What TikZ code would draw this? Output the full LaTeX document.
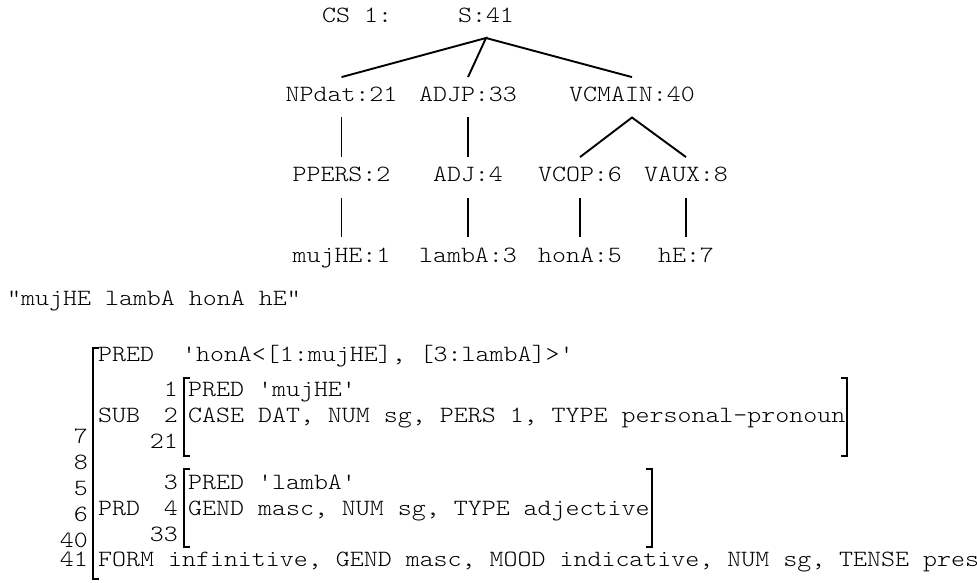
\documentclass[tikz,border=0pt]{standalone}
\usepackage{fontspec}
\newfontfamily\xmono[FakeStretch=1.143]{Latin Modern Mono Light}
\newcommand{\xsize}{\xmono\fontsize{23.3}{26}\selectfont}
\begin{document}
\begin{tikzpicture}[x=1pt,y=-1pt,
  lbl/.style={font=\xsize, inner sep=0pt, anchor=base west},
  rnum/.style={font=\xsize, inner sep=0pt, anchor=base east},
  cat/.style={font=\xsize, inner xsep=0pt, inner ysep=10pt, text height=14.7pt, text depth=5.3pt, anchor=base},
  edge/.style={line width=1.9pt, line cap=butt},
  brk/.style={line width=1.9pt, line cap=butt, line join=miter}]
\useasboundingbox (0,0) rectangle (977,583);
% ---------- c-structure ----------
\node[lbl] (cs) at (322,22.5) {CS 1:};
\node[cat] (s) at (486,22.5) {S:41};
\node[cat] (np) at (341.5,102) {NPdat:21};
\node[cat] (adjp) at (468,102) {ADJP:33};
\node[cat] (vcm) at (632,102) {VCMAIN:40};
\node[cat] (pp) at (341.5,182) {PPERS:2};
\node[cat] (adj) at (468,182) {ADJ:4};
\node[cat] (vcop) at (580,182) {VCOP:6};
\node[cat] (vaux) at (686,182) {VAUX:8};
\node[cat] (w1) at (341.5,262) {mujHE:1};
\node[cat] (w3) at (468,262) {lambA:3};
\node[cat] (w5) at (580,262) {honA:5};
\node[cat] (w7) at (686,262) {hE:7};
\draw[edge] (np.north) -- (s.south) -- (adjp.north);
\draw[edge] (s.south) -- (vcm.north);
\draw[edge] (np.south) -- (pp.north);
\draw[edge] (adjp.south) -- (adj.north);
\draw[edge] (vcop.north) -- (vcm.south) -- (vaux.north);
\draw[edge] (pp.south) -- (w1.north);
\draw[edge] (adj.south) -- (w3.north);
\draw[edge] (vcop.south) -- (w5.north);
\draw[edge] (vaux.south) -- (w7.north);
% ---------- sentence ----------
\node[lbl] (sent) at (7,305) {"mujHE lambA honA hE"};
% ---------- f-structure ----------
\node[lbl] (predtop) at (98,361.5) {PRED\ \ 'honA<[1:mujHE], [3:lambA]>'};
% SUB
\node[rnum] (n1) at (178,396.5) {1};
\node[lbl] (subpred) at (188,396.5) {PRED 'mujHE'};
\node[lbl] (sub) at (98,422.5) {SUB};
\node[rnum] (n2) at (178,422.5) {2};
\node[lbl] (subfeat) at (188,422.5) {CASE DAT, NUM sg, PERS 1, TYPE personal-pronoun};
\node[rnum] (n21) at (178,448.5) {21};
% PRD
\node[rnum] (n3) at (178,489.5) {3};
\node[lbl] (prdpred) at (188,489.5) {PRED 'lambA'};
\node[lbl] (prd) at (98,515) {PRD};
\node[rnum] (n4) at (178,515) {4};
\node[lbl] (prdfeat) at (188,515) {GEND masc, NUM sg, TYPE adjective};
\node[rnum] (n33) at (178,541.5) {33};
% outer numbers
\node[rnum] (o7) at (88,443.5) {7};
\node[rnum] (o8) at (88,469.5) {8};
\node[rnum] (o5) at (88,495.5) {5};
\node[rnum] (o6) at (88,521.5) {6};
\node[rnum] (o40) at (88,547.5) {40};
\node[rnum] (o41) at (88,566.5) {41};
\node[lbl] (form) at (98,566.5) {FORM infinitive, GEND masc, MOOD indicative, NUM sg, TENSE pres};
% brackets
\draw[brk] (99,348) -- (93,348) -- (93,579) -- (99,579);
\draw[brk] (190,378) -- (184,378) -- (184,456) -- (190,456);
\draw[brk] (841,378) -- (847,378) -- (847,456) -- (841,456);
\draw[brk] (190,469) -- (184,469) -- (184,547) -- (190,547);
\draw[brk] (646,469) -- (652,469) -- (652,547) -- (646,547);
\end{tikzpicture}
\end{document}
